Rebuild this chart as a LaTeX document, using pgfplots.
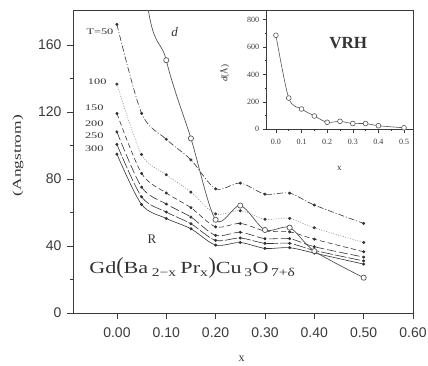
\documentclass[border=0pt]{standalone}
\usepackage{fontspec}
\setmainfont{Liberation Serif}
\setsansfont{Liberation Sans}
\usepackage{pgfplots}
\pgfplotsset{compat=1.18}
\usepackage{pgfplotstable}
\usetikzlibrary{calc}

\definecolor{axisgray}{HTML}{3A3A3A}
\definecolor{curvegray}{HTML}{333333}
\definecolor{dotgray}{HTML}{8C8C8C}
\definecolor{dgray}{HTML}{555555}

% characteristic length vs x for several temperatures, and the VRH length d
\pgfplotstableread{
x     T50   T100  T150  T200  T250  T300  d
0.00  172.4 136.7 119.2 108.2 100.7 94.9  680
0.05  119.3 94.7  83.4  75.2  69.4  64.8  225
0.10  103.8 82.6  71.7  65.1  60.3  56.5  151.0
0.15  91.5  72.2  62.9  57.3  53.3  50.3  104.3
0.20  74.2  59.2  51.5  46.4  43.4  40.6  55.7
0.25  77.6  61.1  53.5  48.2  44.8  42.1  64.2
0.30  71.0  56.0  49.0  44.4  41.6  38.6  49.6
0.35  71.6  56.5  48.5  44.4  41.6  39.0  51.0
0.40  64.5  50.9  44.1  39.6  37.4  35.8  37.0
0.50  53.5  42.1  36.6  33.4  31.1  29.2  21.1
}\rdata

\pgfplotstableread{
x     d
0.00  686
0.05  228
0.10  148
0.15  97
0.20  51
0.25  58
0.30  42
0.35  42
0.40  26
0.50  11
}\vrh

\newcommand\tlab[1]{\scalebox{1.45}[1]{\fontsize{8.5}{9}\selectfont #1}}

\begin{document}
\begin{tikzpicture}
\begin{axis}[
  name=main,
  scale only axis,
  width=340pt, height=303pt,
  xmin=-0.089, xmax=0.60,
  ymin=0, ymax=181,
  xtick={0,0.1,0.2,0.3,0.4,0.5,0.6},
  xticklabels={0.00,0.10,0.20,0.30,0.40,0.50,0.60},
  ytick={0,40,80,120,160},
  minor y tick num=1,
  tick pos=left,
  tick align=outside,
  major tick length=6pt,
  minor tick length=3pt,
  axis line style={axisgray, line width=0.6pt},
  every tick/.style={axisgray, line width=0.6pt},
  tick label style={font=\fontsize{14}{15}\sffamily, text=axisgray},
  /pgf/number format/assume math mode=true,
  xticklabel style={yshift=-5pt},
  yticklabel style={xshift=-2pt},
  clip mode=individual,
]
\addplot[curvegray, line width=0.6pt, smooth,
  dash pattern=on 6pt off 2pt on 1pt off 2pt,
  mark=*, mark size=1.2pt, mark options={solid}] table[y=T50]{\rdata};
\addplot[dotgray, line width=0.6pt, smooth,
  dash pattern=on 1pt off 1.5pt,
  mark=*, mark size=1.2pt, mark options={solid, curvegray}] table[y=T100]{\rdata};
\addplot[curvegray, line width=0.6pt, smooth,
  dash pattern=on 5pt off 3pt,
  mark=*, mark size=1.2pt, mark options={solid}] table[y=T150]{\rdata};
\addplot[curvegray, line width=0.6pt, smooth,
  dash pattern=on 9pt off 3pt,
  mark=*, mark size=1.2pt, mark options={solid}] table[y=T200]{\rdata};
\addplot[curvegray, line width=0.6pt, smooth,
  dash pattern=on 12pt off 2pt,
  mark=*, mark size=1.2pt, mark options={solid}] table[y=T250]{\rdata};
\addplot[curvegray, line width=0.6pt, smooth,
  mark=*, mark size=1.2pt] table[y=T300]{\rdata};
\addplot[dgray, line width=0.7pt, smooth,
  mark=*, mark size=2.6pt, mark options={fill=white, draw=dgray}] table[y=d]{\rdata};

% curve labels
\node[anchor=east, text=curvegray] at (axis cs:0.0,167.8) {\tlab{T=50}};
\node[anchor=east, text=curvegray] at (axis cs:-0.014,137.9) {\tlab{100}};
\node[anchor=east, text=curvegray] at (axis cs:-0.02,122.8) {\tlab{150}};
\node[anchor=east, text=curvegray] at (axis cs:-0.02,112.8) {\tlab{200}};
\node[anchor=east, text=curvegray] at (axis cs:-0.02,105.7) {\tlab{250}};
\node[anchor=east, text=curvegray] at (axis cs:-0.02,97.9) {\tlab{300}};
\node[font=\fontsize{13}{14}\selectfont\itshape, text=curvegray] at (axis cs:0.117,167.8) {d};
\node[font=\fontsize{13}{14}\selectfont, text=curvegray] at (axis cs:0.071,44.2) {R};
\node[anchor=base west, text=curvegray] at (axis cs:-0.063,23.3)
  {\scalebox{1.3}[1]{\fontsize{17}{20}\selectfont Gd\scalebox{1}[1.35]{(}Ba\,\textsubscript{2−x}\,Pr\textsubscript{x}\scalebox{1}[1.35]{)}Cu\textsubscript{\,3}O\textsubscript{\,7+δ}}};

% axis titles
\node[rotate=90, text=curvegray] at (rel axis cs:-0.162,0.519)
  {\scalebox{1.45}[1]{\fontsize{12}{13}\selectfont (Angstrom)}};
\node[font=\fontsize{12}{13}\selectfont, text=curvegray, inner sep=1pt] at (rel axis cs:0.496,-0.150) {x};
\end{axis}

\begin{axis}[
  name=inset,
  at={(main.north east)}, anchor=north east,
  scale only axis,
  width=146.3pt, height=119.3pt,
  xmin=-0.036, xmax=0.535,
  ymin=0, ymax=870,
  xtick={0,0.1,0.2,0.3,0.4,0.5},
  xticklabels={0.0,0.1,0.2,0.3,0.4,0.5},
  minor x tick num=1,
  ytick={0,200,400,600,800},
  minor y tick num=1,
  tick pos=left,
  tick align=outside,
  major tick length=4pt,
  minor tick length=2pt,
  axis line style={axisgray, line width=0.6pt},
  every tick/.style={axisgray, line width=0.5pt},
  tick label style={font=\fontsize{8}{9}\selectfont, text=axisgray},
  /pgf/number format/assume math mode=true,
  xticklabel style={yshift=-2pt},
  clip mode=individual,
]
\addplot[dgray, line width=0.6pt, smooth,
  mark=*, mark size=2.4pt, mark options={fill=white, draw=dgray}] table[y=d]{\vrh};
\node[font=\fontsize{17}{18}\selectfont\bfseries, text=curvegray] at (axis cs:0.282,632) {VRH};
\node[rotate=90, font=\fontsize{9}{10}\selectfont, text=curvegray] at (rel axis cs:-0.287,0.47) {\textit{d}(Å)};
\node[font=\fontsize{9}{10}\selectfont, text=curvegray] at (rel axis cs:0.496,-0.327) {x};
\end{axis}

\pgfresetboundingbox
\useasboundingbox ($(main.south west)+(-73pt,-52pt)$) rectangle ($(main.north east)+(15pt,10pt)$);
\end{tikzpicture}
\end{document}
